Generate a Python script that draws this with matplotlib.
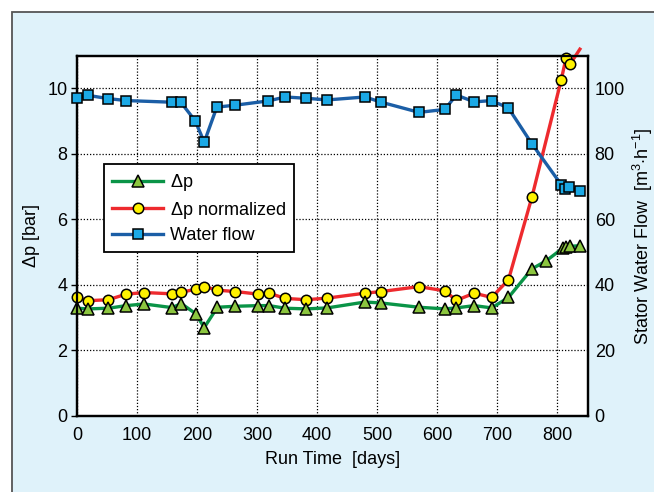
import matplotlib
matplotlib.use("Agg")
import matplotlib.pyplot as plt
from matplotlib.patches import Rectangle
from matplotlib.lines import Line2D

plt.rcParams['font.family'] = ['Liberation Sans', 'DejaVu Sans']
plt.rcParams['mathtext.fontset'] = 'custom'
plt.rcParams['mathtext.rm'] = 'Liberation Sans'
plt.rcParams['mathtext.it'] = 'Liberation Sans:italic'
plt.rcParams['mathtext.bf'] = 'Liberation Sans:bold'

# ---- data ----
dp_days = [0, 18, 52, 82, 112, 158, 174, 198, 212, 234, 264, 302, 320, 347, 382,
           417, 480, 507, 570, 613, 632, 662, 691, 719, 758, 782, 810, 815, 822, 838]
dp_vals = [3.29, 3.27, 3.29, 3.37, 3.42, 3.31, 3.43, 3.12, 2.70, 3.32, 3.35, 3.37,
           3.37, 3.29, 3.27, 3.30, 3.48, 3.45, 3.32, 3.27, 3.30, 3.37, 3.30, 3.62,
           4.49, 4.74, 5.13, 5.16, 5.18, 5.20]

norm_days = [0, 18, 52, 82, 112, 158, 174, 198, 212, 234, 264, 302, 320, 347, 382,
             417, 480, 507, 570, 613, 632, 662, 691, 719, 758, 807, 815, 822]
norm_vals = [3.63, 3.52, 3.55, 3.72, 3.77, 3.73, 3.78, 3.87, 3.95, 3.84, 3.80, 3.72,
             3.75, 3.59, 3.55, 3.60, 3.75, 3.80, 3.95, 3.82, 3.53, 3.75, 3.62, 4.16,
             6.68, 10.27, 10.94, 10.75]
# trend line continuation beyond the last marker
norm_line_end_day = 838
norm_line_end_val = 11.2

flow_days = [0, 18, 52, 82, 158, 173, 197, 212, 233, 264, 319, 347, 382, 417, 480,
             507, 570, 613, 632, 662, 691, 719, 758, 807, 813, 820, 838]
flow_vals = [97.2, 97.9, 96.9, 96.3, 95.8, 95.8, 90.1, 83.6, 94.3, 94.9, 96.2, 97.4,
             97.0, 96.5, 97.4, 95.8, 92.7, 93.6, 98.0, 95.9, 96.3, 94.0, 83.1, 70.6,
             69.3, 69.8, 68.6]

x_ticks = [0, 100, 200, 300, 400, 500, 600, 700, 800]
y_ticks = [0, 2, 4, 6, 8, 10]
y2_ticks = [0, 20, 40, 60, 80, 100]

# ---- styles ----
bg = '#dff2fa'
green_line, green_face = '#0a9447', '#8cc63f'
red_line, yellow_face = '#ee2a2e', '#fff200'
blue_line, blue_face = '#1b5ea6', '#1ba9e6'
lw = 2.4
ms = 7.5
fs = 13

fig = plt.figure(figsize=(6.54, 4.92), dpi=100)
fig.patch.set_facecolor('white')
fig.patches.append(Rectangle((12/654, -0.02), 1.0, 1 - 12/492 + 0.02,
                             transform=fig.transFigure, facecolor=bg,
                             edgecolor='#555555', linewidth=1.3, zorder=-5))

ax = fig.add_axes([77/654, 1 - 416/492, (587.7 - 77)/654, (416 - 55.7)/492])
ax.set_facecolor('white')
ax.set_xlim(0, 851)
ax.set_ylim(0, 11)

ax.plot(norm_days + [norm_line_end_day], norm_vals + [norm_line_end_val],
        color=red_line, lw=lw, zorder=3, clip_on=False)
ax.plot(norm_days, norm_vals, ls='none', marker='o', ms=ms, mfc=yellow_face,
        mec='black', mew=1.1, zorder=4, clip_on=False)
ax.plot(dp_days, dp_vals, color=green_line, lw=lw, marker='^', ms=ms + 1,
        mfc=green_face, mec='black', mew=1.1, zorder=5, clip_on=False)

ax.set_xticks(x_ticks)
ax.set_yticks(y_ticks)
ax.grid(True, color='black', linestyle=(0, (1, 1.5)), linewidth=0.9)
ax.tick_params(axis='y', direction='out', length=4, width=1, labelsize=fs, pad=3)
ax.tick_params(axis='x', length=0, labelsize=fs, pad=8)
for s in ax.spines.values():
    s.set_linewidth(1.6)
ax.set_xlabel('Run Time  [days]', fontsize=fs, labelpad=5)
ax.set_ylabel(r'$\Delta$p [bar]', fontsize=fs, labelpad=4)

ax2 = ax.twinx()
ax2.set_ylim(0, 110)
ax2.set_yticks(y2_ticks)
ax2.tick_params(axis='y', length=0, labelsize=fs, pad=5)
for s in ax2.spines.values():
    s.set_linewidth(1.6)
ax2.plot(flow_days, flow_vals, color=blue_line, lw=lw, marker='s', ms=ms,
         mfc=blue_face, mec='black', mew=1.1, zorder=5, clip_on=False)
ax2.set_ylabel(r'Stator Water Flow  [m$^3$$\cdot$h$^{-1}$]', fontsize=fs, labelpad=4)

handles = [
    Line2D([], [], color=green_line, lw=lw, marker='^', ms=ms + 1, mfc=green_face,
           mec='black', mew=1.1),
    Line2D([], [], color=red_line, lw=lw, marker='o', ms=ms, mfc=yellow_face,
           mec='black', mew=1.1),
    Line2D([], [], color=blue_line, lw=lw, marker='s', ms=ms, mfc=blue_face,
           mec='black', mew=1.1),
]
labels = [r'$\Delta$p', r'$\Delta$p normalized', 'Water flow']
leg = ax2.legend(handles, labels, loc='upper left',
                 bbox_to_anchor=((104.3 - 77) / 510.7, (416 - 164.3) / 360.3),
                 borderaxespad=0, fontsize=fs, frameon=True, fancybox=False,
                 handlelength=2.8, handletextpad=0.4, labelspacing=0.35,
                 borderpad=0.45, framealpha=1)
leg.get_frame().set_edgecolor('black')
leg.get_frame().set_linewidth(1.3)
leg.set_zorder(10)

fig.savefig('out.png', dpi=100, facecolor=fig.get_facecolor())
